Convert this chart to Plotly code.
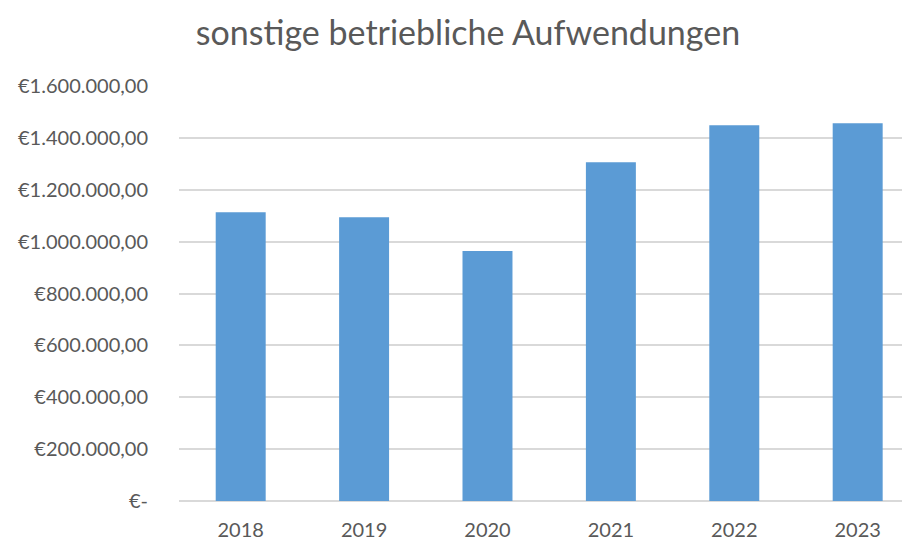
import plotly.graph_objects as go

years = ["2018", "2019", "2020", "2021", "2022", "2023"]
expenses = [1113000, 1094000, 964000, 1306000, 1449000, 1456000]
tick_values = [0, 200000, 400000, 600000, 800000, 1000000, 1200000, 1400000, 1600000]
tick_labels = ["€-", "€200.000,00", "€400.000,00", "€600.000,00", "€800.000,00",
               "€1.000.000,00", "€1.200.000,00", "€1.400.000,00", "€1.600.000,00"]
title = "sonstige betriebliche Aufwendungen"

FONT = "Lato"
GREY = "#595959"
OFF = 8  # page body margin

W, H = 910 - OFF, 540 - OFF

fig = go.Figure(go.Bar(
    x=years, y=expenses, marker=dict(color="#5b9bd5", line=dict(width=0)),
    width=0.405,
))

fig.update_layout(
    width=W, height=H,
    margin=dict(l=179 - OFF, r=0, t=86 - OFF, b=H - (501 - OFF), autoexpand=False),
    paper_bgcolor="white", plot_bgcolor="white",
    showlegend=False,
    title=dict(text=title, x=(468 - OFF) / W, xanchor="center", xref="container",
               y=1 - (33 - OFF) / H, yanchor="middle", yref="container",
               font=dict(family=FONT, size=34, color=GREY)),
    font=dict(family=FONT, color=GREY),
)
fig.update_xaxes(type="category", range=[-0.5, 5.424], showgrid=False,
                 showline=False, zeroline=False, automargin=False,
                 tickfont=dict(family=FONT, size=20, color=GREY),
                 ticks="", ticklabelstandoff=15)
fig.update_yaxes(range=[0, 1600000], tickvals=tick_values, ticktext=tick_labels,
                 showgrid=True, gridcolor="#d9d9d9", gridwidth=1.5,
                 zeroline=True, zerolinecolor="#d9d9d9", zerolinewidth=1.5,
                 showline=False, automargin=False,
                 tickfont=dict(family=FONT, size=20, color=GREY),
                 ticks="", ticklabelstandoff=30)

fig.write_html("out.html")
